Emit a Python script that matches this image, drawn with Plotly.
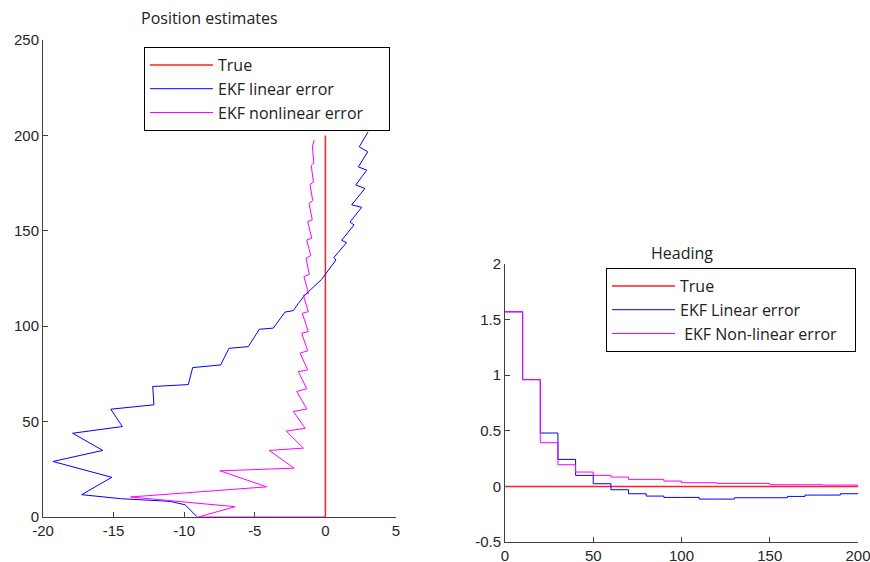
"""
Position estimates and heading (EKF linear vs nonlinear) - two panels, MATLAB-style.
Values read off the reference picture.
"""

import plotly.graph_objects as go

# ---------- data: position panel (x error vs y position) ----------

true_pos_x = [0, 0]
true_pos_y = [0, 200]

lin_pos_x = [-9.07, -9.94, -11.0, -12.8, -14.5, -17.26, -15.13, -19.3, -15.77, -17.9,
             -14.38, -15.2, -12.14, -12.23, -9.71, -9.4, -7.42, -6.83, -5.46, -4.68,
             -3.69, -2.86, -2.27, -1.92, -1.44, -0.26, 0.75, 0.6, 1.5, 1.15, 2.03,
             1.74, 2.57, 1.86, 2.8, 2.15, 2.93, 2.33, 3.0, 2.4, 3.02]
lin_pos_y = [0, 6.4, 8.2, 9.0, 9.6, 11.7, 20.8, 29.1, 34.9, 43.9,
             47.4, 56.5, 58.8, 68.4, 69.4, 78.3, 79.7, 88.4, 89.3, 98.4,
             99.0, 107.4, 108.2, 111.9, 116.4, 124.6, 134.7, 136.0, 143.8, 145.0, 153.1,
             154.6, 162.3, 163.6, 172.2, 174.0, 181.8, 183.5, 191.4, 194.0, 201.8]

nonlin_pos_x = [0, -9.0, -6.4, -13.8, -4.16, -7.46, -2.22, -3.97, -1.56, -2.77,
                -1.43, -2.27, -1.32, -2.03, -1.32, -1.92, -1.25, -1.8, -1.25, -1.68,
                -1.21, -1.64, -1.21, -1.56, -1.2, -1.52, -1.14, -1.37, -1.04, -1.32,
                -0.97, -1.25, -0.93, -1.16, -0.9, -1.09, -0.85, -1.0, -0.82, -0.92, -0.8]
nonlin_pos_y = [0, 0, 5.4, 10.5, 15.8, 24.2, 25.6, 34.9, 36.1, 45.0,
                46.5, 55.3, 56.6, 65.8, 67.2, 76.2, 77.1, 85.9, 87.1, 96.3,
                97.2, 106.8, 107.6, 116.2, 117.2, 126.0, 127.2, 135.6, 137.0, 145.2,
                146.1, 154.8, 155.7, 164.4, 165.8, 174.3, 175.5, 184.3, 185.5, 194.0, 197.5]

# ---------- data: heading panel (step values, held until next step) ----------

step_k = [0, 10, 20, 30, 40, 50, 60, 70, 80, 90, 100, 110, 120, 130, 150, 160, 170, 180, 190, 200]
true_head = [0] * len(step_k)
lin_head = [1.57, 0.96, 0.48, 0.243, 0.099, 0.024, -0.03, -0.066, -0.087, -0.099,
            -0.099, -0.114, -0.114, -0.102, -0.102, -0.09, -0.078, -0.078, -0.066, -0.066]
nonlin_head = [1.57, 0.96, 0.393, 0.195, 0.129, 0.099, 0.084, 0.063, 0.063, 0.048,
               0.033, 0.033, 0.027, 0.027, 0.015, 0.015, 0.015, 0.012, 0.012, 0.012]

RED, BLUE, MAGENTA = "#ff2020", "#0000ff", "#ff00ff"
W, H = 870, 562
PAD = "\u00a0"      # widens the legend boxes a little, like the original
TEXT_FONT = dict(family="Open Sans", size=16, color="#222")


def px_x(p):
    return p / W


def px_y(p):
    return 1 - p / H


fig = go.Figure()

# position panel
fig.add_trace(go.Scatter(x=true_pos_x, y=true_pos_y, mode="lines", name="True",
                         line=dict(color=RED, width=1.5), xaxis="x", yaxis="y"))
fig.add_trace(go.Scatter(x=lin_pos_x, y=lin_pos_y, mode="lines", name="EKF linear error",
                         line=dict(color=BLUE, width=1), xaxis="x", yaxis="y"))
fig.add_trace(go.Scatter(x=nonlin_pos_x, y=nonlin_pos_y, mode="lines",
                         name="EKF nonlinear error" + PAD * 5,
                         line=dict(color=MAGENTA, width=1), xaxis="x", yaxis="y"))

# heading panel
fig.add_trace(go.Scatter(x=step_k, y=true_head, mode="lines", name="True",
                         line=dict(color=RED, width=1.5), xaxis="x2", yaxis="y2", legend="legend2"))
fig.add_trace(go.Scatter(x=step_k, y=lin_head, mode="lines", name="EKF Linear error",
                         line=dict(color=BLUE, width=1, shape="hv"),
                         xaxis="x2", yaxis="y2", legend="legend2"))
fig.add_trace(go.Scatter(x=step_k, y=nonlin_head, mode="lines",
                         name=" EKF Non-linear error" + PAD * 3,
                         line=dict(color=MAGENTA, width=1, shape="hv"),
                         xaxis="x2", yaxis="y2", legend="legend2"))

axis_style = dict(showline=True, linecolor="#404040", linewidth=1, ticks="inside",
                  ticklen=5, tickcolor="#404040", showgrid=False, zeroline=False,
                  mirror=False, automargin=False, layer="below traces",
                  ticklabeloverflow="allow",
                  tickfont=dict(family="Liberation Sans", size=15, color="#262626"))

pos_xt = [-20, -15, -10, -5, 0, 5]
pos_yt = [0, 50, 100, 150, 200, 250]
head_xt = [0, 50, 100, 150, 200]
head_yt = [-0.5, 0, 0.5, 1, 1.5, 2]

legend_style = dict(xanchor="left", yanchor="top", bgcolor="white", bordercolor="black",
                    borderwidth=1, itemwidth=63, font=TEXT_FONT)

fig.update_layout(
    width=W, height=H,
    margin=dict(l=0, r=0, t=0, b=0, autoexpand=False),
    paper_bgcolor="white", plot_bgcolor="white",
    xaxis=dict(domain=[px_x(43), px_x(396)], range=[-20, 5], anchor="y",
               tickvals=pos_xt, ticktext=[str(v) for v in pos_xt], **axis_style),
    yaxis=dict(domain=[px_y(517), px_y(40)], range=[0, 250], anchor="x",
               tickvals=pos_yt, ticktext=[str(v) for v in pos_yt], **axis_style),
    xaxis2=dict(domain=[px_x(505), px_x(858)], range=[0, 200], anchor="y2",
                tickvals=head_xt, ticktext=[str(v) for v in head_xt], **axis_style),
    yaxis2=dict(domain=[px_y(542), px_y(264)], range=[-0.5, 2], anchor="x2",
                tickvals=head_yt, ticktext=[f"{v:g}" for v in head_yt], **axis_style),
    legend=dict(x=px_x(144), y=px_y(47), **legend_style),
    legend2=dict(x=px_x(606), y=px_y(268), **legend_style),
    annotations=[
        dict(text="Position estimates", x=px_x(209), y=px_y(18), xref="paper", yref="paper",
             xanchor="center", yanchor="middle", showarrow=False, font=TEXT_FONT),
        dict(text="Heading", x=px_x(682), y=px_y(253), xref="paper", yref="paper",
             xanchor="center", yanchor="middle", showarrow=False, font=TEXT_FONT),
    ],
)

# drop the page's default body margin so the figure sits at the window's corner
fig.write_html("out.html", config={"displayModeBar": False},
               post_script="document.body.style.margin='0';")
